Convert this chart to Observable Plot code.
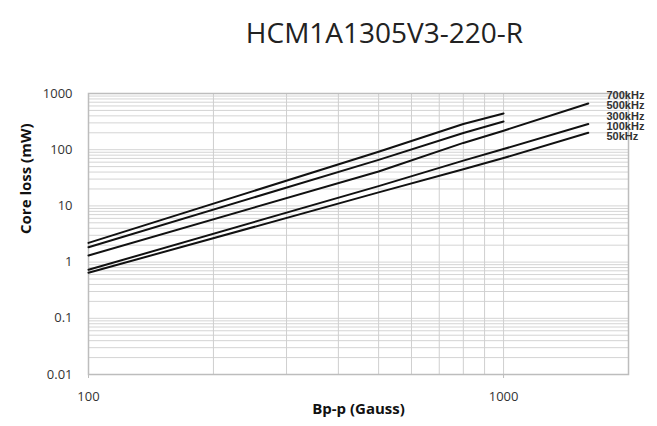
<!DOCTYPE html>
<html>
<head>
<meta charset="utf-8">
<script src="https://cdn.jsdelivr.net/npm/d3@7"></script>
<script src="https://cdn.jsdelivr.net/npm/@observablehq/plot@0.6"></script>
<style>
  html, body { margin: 0; padding: 0; background: #fff; }
  #wrap { position: relative; width: 657px; height: 426px; }
  #title { position: absolute; left: 0; top: 13px; width: 657px; padding-left: 112px; box-sizing: border-box;
           text-align: center; font-family: "Open Sans", sans-serif; font-size: 28px; color: #222; line-height: 38px; }
  #chart { position: absolute; left: 0; top: 70px; }
</style>
</head>
<body>
<div id="wrap">
  <div id="title">HCM1A1305V3-220-R</div>
  <div id="chart"></div>
</div>
<script>
// Flux density Bp-p (Gauss) sample points
const bpp = [100, 500, 800, 1000, 1600];
const freqs = ["700kHz", "500kHz", "300kHz", "100kHz", "50kHz"];
// Core loss (mW)
const loss700 = [2.2, 92, 286, 441];
const loss500 = [1.84, 66, 198, 318];
const loss300 = [1.31, 41, 132, 218, 664];
const loss100 = [0.73, 22.5, 64, 103, 286];
const loss50  = [0.645, 17.4, 45, 71, 200];
const xTicks = [100, 1000];
const yTicks = [0.01, 0.1, 1, 10, 100, 1000];
const yTickLabels = ["0.01", "0.1", "1", "10", "100", "1000"];

const seriesList = [loss700, loss500, loss300, loss100, loss50];
const rows = seriesList.flatMap((vals, s) =>
  vals.map((v, i) => ({freq: freqs[s], b: bpp[i], loss: v})));

const xGrid = d3.range(1, 11).map(k => k * 100);
const yGrid = [0.01, 0.1, 1, 10, 100].flatMap(d => d3.range(1, 10).map(k => +(d * k).toPrecision(3))).concat([1000]);

const legendMarks = freqs.map((f, i) => Plot.text([f], {
  text: d => d, frameAnchor: "top-right", textAnchor: "start",
  dx: -22, dy: -2 + i * 10.1,
  fontFamily: "'Liberation Sans', Arial, sans-serif", fontWeight: "bold", fontSize: 11, fill: "#333"
}));

const chart = Plot.plot({
  width: 657,
  height: 356,
  marginLeft: 88,
  marginRight: 29,
  marginTop: 23,
  marginBottom: 52,
  style: {fontFamily: "'Open Sans', sans-serif", fontSize: "13px", color: "#333", background: "#fff", overflow: "visible"},
  x: {type: "log", domain: [100, 2000]},
  y: {type: "log", domain: [0.01, 1000]},
  marks: [
    Plot.ruleY(yGrid, {y: d => d, stroke: "#d4d4d4", strokeWidth: 1}),
    Plot.ruleX(xGrid, {x: d => d, stroke: "#cfcfcf", strokeWidth: 1}),
    Plot.frame({stroke: "#bdbdbd", strokeWidth: 1.5}),
    Plot.axisX({ticks: xTicks, tickFormat: d => yTickLabels[yTicks.indexOf(d)], tickSize: 4, tickPadding: 13, stroke: "#bdbdbd", label: null, fontSize: 13}),
    Plot.axisY({ticks: yTicks, tickFormat: d => yTickLabels[yTicks.indexOf(d)], tickSize: 0, tickPadding: 16, label: null, fontSize: 13}),
    Plot.line(rows, {x: "b", y: "loss", z: "freq", stroke: "#111", strokeWidth: 2}),
    ...legendMarks,
    Plot.text(["Bp-p (Gauss)"], {
      text: d => d, frameAnchor: "bottom", dy: 39,
      fontFamily: "'Open Sans', sans-serif", fontWeight: "bold", fontSize: 15, fill: "#111"
    }),
    Plot.text(["Core loss (mW)"], {
      text: d => d, frameAnchor: "left", rotate: -90, dx: -62,
      fontFamily: "'Open Sans', sans-serif", fontWeight: "bold", fontSize: 15, fill: "#111"
    })
  ]
});
document.getElementById("chart").appendChild(chart);
</script>
</body>
</html>
